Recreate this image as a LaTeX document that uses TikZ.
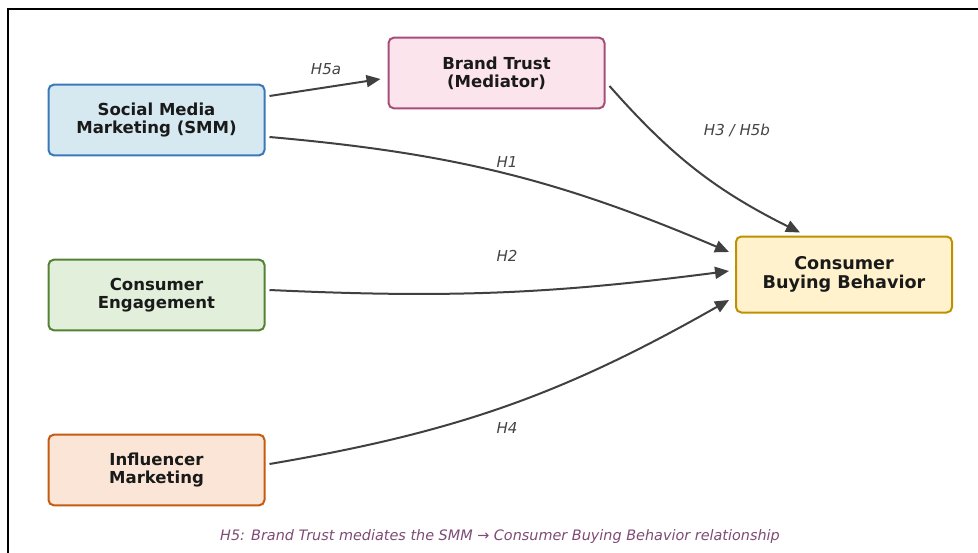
\documentclass[tikz,border=0pt]{standalone}
\usepackage{fontspec}
\setmainfont{DejaVu Sans}
\usetikzlibrary{arrows.meta,calc}
\definecolor{smmfill}{RGB}{214,232,240}
\definecolor{smmdraw}{RGB}{58,120,184}
\definecolor{btfill}{RGB}{252,228,236}
\definecolor{btdraw}{RGB}{166,77,121}
\definecolor{cefill}{RGB}{226,239,218}
\definecolor{cedraw}{RGB}{84,130,53}
\definecolor{imfill}{RGB}{251,229,214}
\definecolor{imdraw}{RGB}{197,90,17}
\definecolor{cbbfill}{RGB}{255,242,204}
\definecolor{cbbdraw}{RGB}{191,144,0}
\definecolor{arrowgray}{RGB}{64,64,64}
\definecolor{labgray}{RGB}{68,68,68}
\definecolor{captioncol}{RGB}{125,75,115}
\definecolor{textdark}{RGB}{26,26,26}
\begin{document}
\begin{tikzpicture}[x=0.75pt,y=-0.75pt,
  box/.style={draw, line width=1.5pt, rounded corners=4pt, minimum width=162pt,
    minimum height=53pt, inner sep=0pt, align=center, text=textdark,
    font=\bfseries\fontsize{12.4}{13.6}\selectfont},
  arr/.style={draw=arrowgray, line width=1.5pt, -{Triangle[length=10.5pt,width=9pt]}},
  lab/.style={text=labgray, font=\itshape\fontsize{11.3}{13}\selectfont}]
\useasboundingbox (0,0) rectangle (978,553);
\draw[line width=0.8pt, black] (8,553) -- (8,9) -- (978,9);

\node[box, fill=smmfill, draw=smmdraw] (smm) at (156.5,120) {Social Media\\Marketing (SMM)};
\node[box, fill=btfill, draw=btdraw] (bt) at (496.5,73) {Brand Trust\\(Mediator)};
\node[box, fill=cefill, draw=cedraw] (ce) at (156.5,295) {Consumer\\Engagement};
\node[box, fill=imfill, draw=imdraw] (im) at (156.5,470) {Influencer\\Marketing};
\node[box, fill=cbbfill, draw=cbbdraw, minimum height=57pt, font=\bfseries\fontsize{13.2}{14.4}\selectfont] (cbb) at (844,274.5) {Consumer\\Buying Behavior};

\draw[arr] ([shift={(4,-24)}]smm.east) -- ([shift={(-7,6)}]bt.west);
\draw[arr] ([shift={(4,17)}]smm.east) to[bend left=9] ([shift={(-6,-22.5)}]cbb.west);
\draw[arr] ([shift={(4,-5)}]ce.east) to[bend right=5] ([shift={(-6,-3.5)}]cbb.west);
\draw[arr] ([shift={(4,-6)}]im.east) to[bend right=10] ([shift={(-6,25.5)}]cbb.west);
\draw[arr] ([shift={(4,13)}]bt.east) to[bend right=11] ([shift={(-44,-3)}]cbb.north);

\node[lab] (lh5a) at (326,69) {H5a};
\node[lab] (lh1) at (507,162) {H1};
\node[lab] (lh2) at (507,256) {H2};
\node[lab] (lh4) at (507,428) {H4};
\node[lab] (lh3) at (737,130) {H3 / H5b};
\node[text=captioncol, font=\itshape\fontsize{10.8}{12}\selectfont] (cap) at (500,537) {H5: Brand Trust mediates the SMM → Consumer Buying Behavior relationship};
\end{tikzpicture}
\end{document}
